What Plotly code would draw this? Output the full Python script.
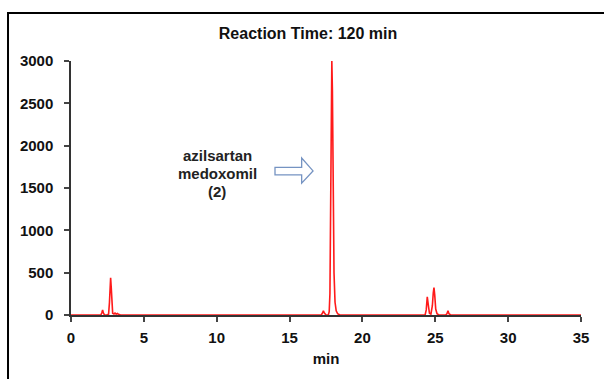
import plotly.graph_objects as go

# Chromatogram data (retention time in min, detector response)
time = [0.0, 1.9, 2.05, 2.12, 2.17, 2.22, 2.3, 2.45, 2.58, 2.64, 2.68, 2.72, 2.76, 2.8, 2.86, 2.95,
        3.02, 3.1, 3.18, 3.26, 3.4, 3.6,
        16.9, 17.18, 17.28, 17.32, 17.38, 17.5, 17.66, 17.72, 17.77, 17.82, 17.86, 17.9, 17.94,
        17.99, 18.05, 18.12, 18.2, 18.3, 18.45, 18.7,
        24.1, 24.3, 24.38, 24.45, 24.52, 24.6, 24.7, 24.8, 24.86, 24.91, 24.96, 25.03, 25.12,
        25.25, 25.7, 25.8, 25.87, 25.94, 26.05, 35.0]
signal = [0, 0, 0, 30, 60, 25, 0, 0, 10, 150, 380, 440, 330, 120, 20, 12,
          22, 10, 18, 8, 0, 0,
          0, 0, 30, 50, 25, 0, 0, 40, 250, 1200, 2600, 3000, 2650,
          1450, 500, 150, 50, 15, 0, 0,
          0, 0, 60, 215, 120, 20, 10, 110, 260, 325, 240, 70, 15,
          0, 0, 15, 50, 15, 0, 0]

x_ticks = [0, 5, 10, 15, 20, 25, 30, 35]
y_ticks = [0, 500, 1000, 1500, 2000, 2500, 3000]

title_text = "Reaction Time: 120 min"
x_title = "min"
label_lines = ["azilsartan", "medoxomil", "(2)"]

FONT = "Liberation Sans, Arial, sans-serif"

fig = go.Figure()
fig.add_trace(go.Scatter(x=time, y=signal, mode="lines",
                         line=dict(color="#ff1a1a", width=1.6), showlegend=False,
                         hoverinfo="skip"))

# hollow block arrow pointing at the main peak (data coords)
arrow_path = ("M 14.0 1744 L 15.83 1744 L 15.83 1854 L 16.61 1702 "
              "L 15.83 1558 L 15.83 1656 L 14.0 1656 Z")
fig.add_shape(type="path", path=arrow_path, xref="x", yref="y",
              line=dict(color="#7593c2", width=1.3), fillcolor="rgba(255,255,255,1)")

# figure border (left & top visible)
fig.add_shape(type="rect", xref="paper", yref="paper",
              x0=-0.1235, x1=1.2, y0=-0.6, y1=1.189,
              line=dict(color="black", width=2), fillcolor="rgba(0,0,0,0)", layer="below")

for line_text, yv in zip(label_lines, [1889, 1673, 1456]):
    fig.add_annotation(x=10.05, y=yv, xref="x", yref="y",
                       text=line_text, showarrow=False,
                       font=dict(family=FONT, size=15, color="#222", weight="bold"),
                       xanchor="center", yanchor="middle")

fig.update_layout(
    width=604, height=379,
    margin=dict(l=71, r=23, t=61, b=64),
    paper_bgcolor="white", plot_bgcolor="white",
    title=dict(text=title_text, x=0.51, xanchor="center", y=0.913, yanchor="middle",
               font=dict(family=FONT, size=16, color="#111", weight="bold")),
    font=dict(family=FONT, size=15, color="#111"),
)
fig.update_xaxes(range=[0, 35], tickvals=x_ticks, ticks="outside", ticklen=5,
                 tickcolor="#444", tickwidth=1.5, showgrid=False, zeroline=False,
                 showline=True, linecolor="#333", linewidth=1.5, ticklabelstandoff=3,
                 tickfont=dict(family=FONT, size=15, color="#111", weight="bold"),
                 title=dict(text=x_title, standoff=9,
                            font=dict(family=FONT, size=15, color="#111", weight="bold")))
fig.update_yaxes(range=[0, 3000], tickvals=y_ticks, ticks="outside", ticklen=5,
                 tickcolor="#444", tickwidth=1.5, showgrid=False, zeroline=False,
                 showline=True, linecolor="#333", linewidth=1.5, ticklabelstandoff=8,
                 tickfont=dict(family=FONT, size=15, color="#111", weight="bold"))

fig.write_html("out.html")
